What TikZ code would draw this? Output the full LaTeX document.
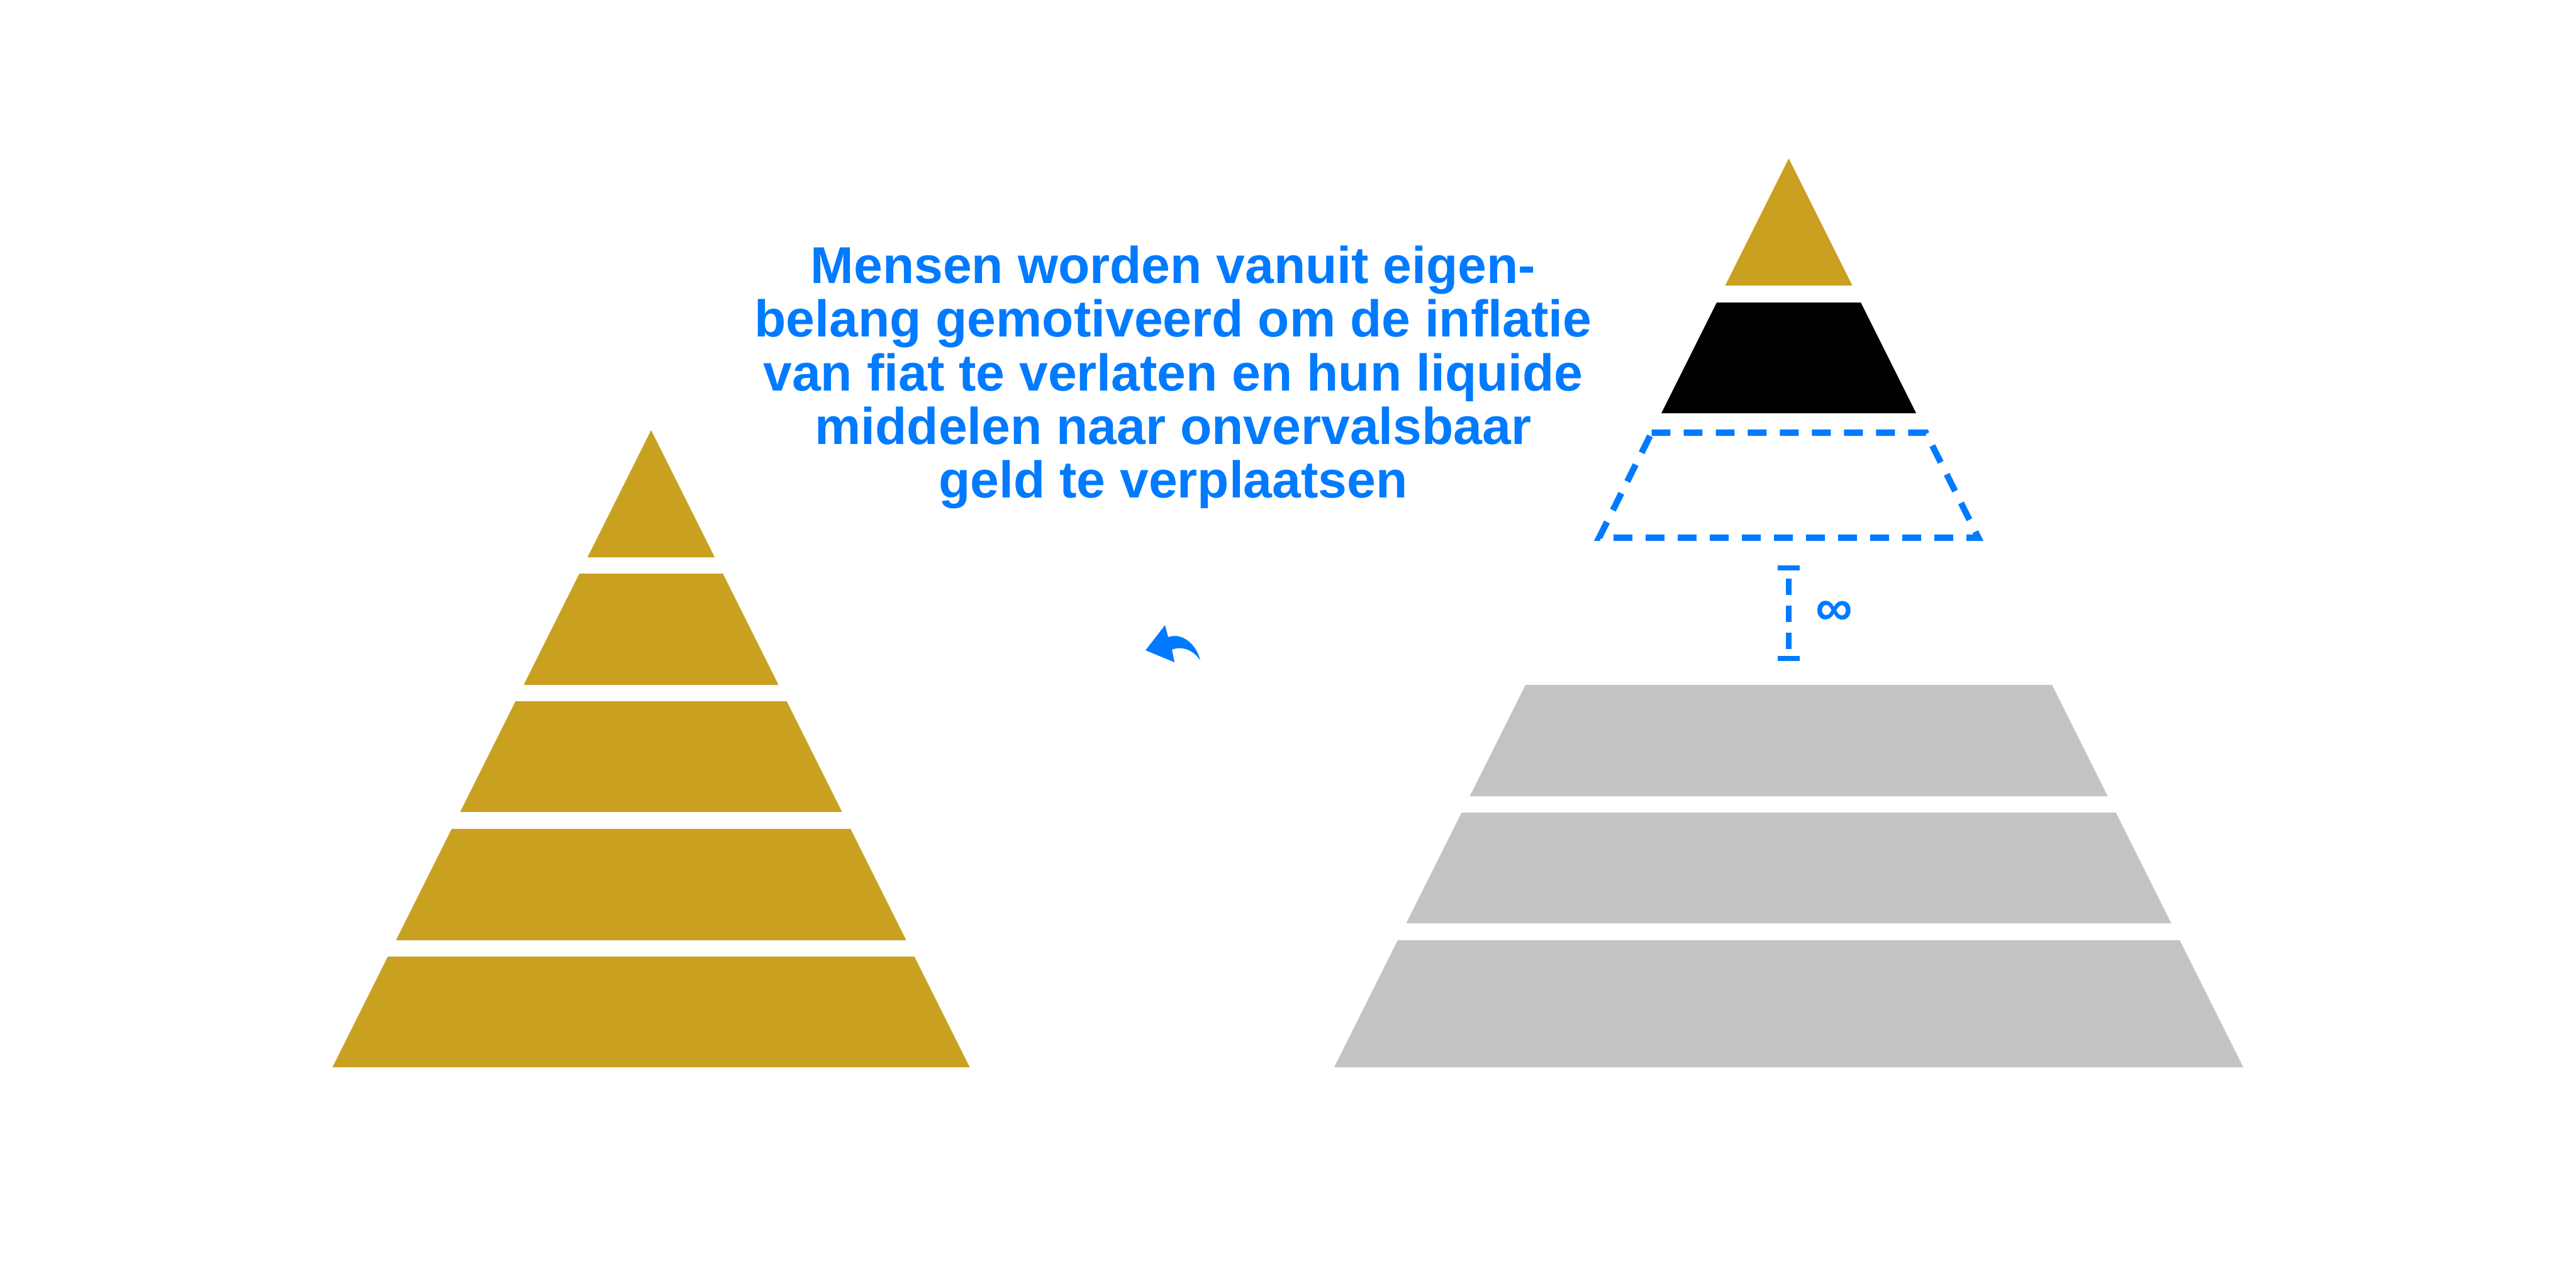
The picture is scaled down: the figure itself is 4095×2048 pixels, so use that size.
\documentclass[tikz,border=0pt]{standalone}
\usepackage{fontspec}
\setmainfont{Liberation Sans}
\usepackage{xcolor}
\usetikzlibrary{arrows.meta}
\definecolor{gold}{HTML}{CAA020}
\definecolor{silver}{HTML}{C4C4C4}
\definecolor{azure}{HTML}{007AFF}
\tikzset{
  future/.style={draw=azure, line width=2.85pt, dash pattern=on 8.5pt off 6pt},
  gapline/.style={draw=azure, line width=2.45pt, dash pattern=on 7.4pt off 4.95pt, dash phase=8.28pt,
    arrows={Bar[width=9.7pt,line width=2.37pt]-Bar[width=9.7pt,line width=2.37pt]}},
  bigtext/.style={font=\bfseries\fontsize{23.4}{24.27}\selectfont, text=azure, inner sep=0pt},
}
\begin{document}
\begin{tikzpicture}[x=0.01cm,y=-0.01cm]
	\fill[white] (0,0) rectangle (4095,2048);
	\useasboundingbox (0,0) rectangle (4095,2048);
	% left pyramid
	\foreach \t/\b in {684/886,912/1089,1115/1291,1318/1495,1521/1697}
		\fill[gold] ({1035-(\t-684)/2},\t) -- ({1035+(\t-684)/2},\t) -- ({1035+(\b-684)/2},\b) -- ({1035-(\b-684)/2},\b) -- cycle;
	% right pyramid
	\foreach \t/\b/\c in {252/454/gold,481/657/black,1089/1266/silver,1292/1468/silver,1495/1697/silver}
		\fill[\c] ({2843.5-(\t-252)/2},\t) -- ({2843.5+(\t-252)/2},\t) -- ({2843.5+(\b-252)/2},\b) -- ({2843.5-(\b-252)/2},\b) -- cycle;
	\draw[future] (2625.5,688) -- (3061.5,688) -- (3145,855) -- (2542,855) -- cycle;
	\coordinate (gaptop) at (2843.5,899);
	\coordinate (gapbot) at (2843.5,1051);
	\draw[gapline] (gaptop) -- (gapbot);
	\node[bigtext] (inf) at (2916,975) {∞};
	% text and arrow
	\node[bigtext, align=center] (note) at (1865,600)
		{Mensen worden vanuit eigen-\\belang gemotiveerd om de inflatie\\van fiat te verlaten en hun liquide\\middelen naar onvervalsbaar\\geld te verplaatsen};
	\fill[azure] (1821,1034) -- (1852,994) -- (1857,1013) .. controls (1880,1005) and (1902,1025) .. (1908,1050)
		.. controls (1898,1035) and (1880,1026) .. (1863,1033) -- (1867,1053) -- cycle;
\end{tikzpicture}
\end{document}
